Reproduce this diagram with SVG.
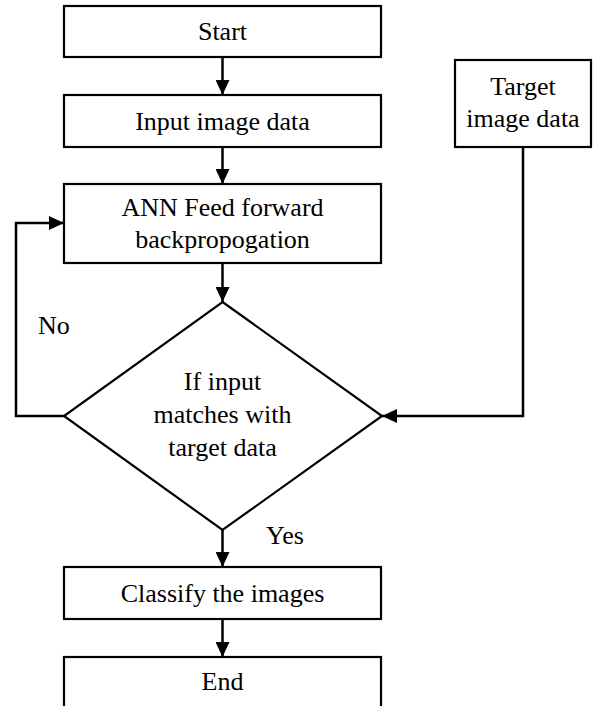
<svg xmlns="http://www.w3.org/2000/svg" width="594" height="706" viewBox="0 0 594 706">
<style>
.box{fill:#fff;stroke:#000;stroke-width:2.2}
.t{font-family:"Liberation Serif","Times New Roman",serif;font-size:26px;fill:#000;text-anchor:middle}
.lbl{font-family:"Liberation Serif","Times New Roman",serif;font-size:26px;fill:#000}
.c{fill:none;stroke:#000;stroke-width:2.5}
</style>
<defs>
<marker id="ah" markerUnits="userSpaceOnUse" markerWidth="16" markerHeight="14" refX="15" refY="7" orient="auto">
<path d="M0,0 L15,7 L0,14 Z" fill="#000"/>
</marker>
</defs>
<rect width="594" height="706" fill="#fff"/>
<g id="connectors">
<line class="c" x1="222.5" y1="57" x2="222.5" y2="95" marker-end="url(#ah)"/>
<line class="c" x1="222.5" y1="147" x2="222.5" y2="184" marker-end="url(#ah)"/>
<line class="c" x1="222.5" y1="263" x2="222.5" y2="302" marker-end="url(#ah)"/>
<line class="c" x1="222.5" y1="530" x2="222.5" y2="567" marker-end="url(#ah)"/>
<line class="c" x1="222.5" y1="619" x2="222.5" y2="657" marker-end="url(#ah)"/>
<polyline class="c" points="64,416 16,416 16,223 64,223" marker-end="url(#ah)"/>
<polyline class="c" points="523,147 523,416 382,416" marker-end="url(#ah)"/>
<text class="lbl" x="38" y="334">No</text>
<text class="lbl" x="266" y="544">Yes</text>
</g>
<g id="start"><rect class="box" x="64" y="6" width="317" height="51"/><text class="t" x="222.5" y="40">Start</text></g>
<g id="input"><rect class="box" x="64" y="95" width="317" height="52"/><text class="t" x="222.5" y="130">Input image data</text></g>
<g id="target"><rect class="box" x="455" y="60" width="136" height="87"/><text class="t" x="523" y="95">Target</text><text class="t" x="523" y="127">image data</text></g>
<g id="ann"><rect class="box" x="64" y="184" width="317" height="79"/><text class="t" x="222.5" y="216">ANN Feed forward</text><text class="t" x="222.5" y="248">backpropogation</text></g>
<g id="decision"><polygon class="box" points="222.5,302 382,416 222.5,530 64,416"/><text class="t" x="222.5" y="390">If input</text><text class="t" x="222.5" y="423">matches with</text><text class="t" x="222.5" y="456">target data</text></g>
<g id="classify"><rect class="box" x="64" y="567" width="317" height="52"/><text class="t" x="222.5" y="602">Classify the images</text></g>
<g id="end"><rect class="box" x="64" y="657" width="317" height="60"/><text class="t" x="222.5" y="690">End</text></g>
</svg>
